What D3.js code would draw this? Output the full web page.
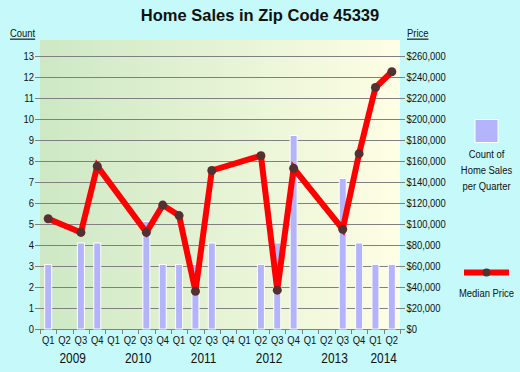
<!DOCTYPE html>
<html><head><meta charset="utf-8">
<script src="https://cdn.jsdelivr.net/npm/d3@7"></script>
<style>
html,body{margin:0;padding:0;background:#c6f9fa;}
svg{display:block;}
text{font-family:"Liberation Sans",Arial,sans-serif;fill:#111;}
</style></head>
<body>
<svg id="chart" width="520" height="372"></svg>
<script>
const years = ["2009","2010","2011","2012","2013","2014"];
const periods = ["2009Q1","2009Q2","2009Q3","2009Q4","2010Q1","2010Q2","2010Q3","2010Q4",
  "2011Q1","2011Q2","2011Q3","2011Q4","2012Q1","2012Q2","2012Q3","2012Q4",
  "2013Q1","2013Q2","2013Q3","2013Q4","2014Q1","2014Q2"];
const salesCount = [3,0,4,4, 0,0,5,3, 3,3,4,0, 0,3,4,9, 0,0,7,4, 3,3];
const medianPrice = [105000,null,92000,155000, null,null,92000,118000, 108000,36000,151000,null,
  null,165000,37000,153000, null,null,95000,167000, 230000,245000];
const countTicks = d3.range(0,14);
const priceTicks = d3.range(0,260001,20000);

const svg = d3.select("#chart");
const L=40,R=400,T=56,B=329,TOPBG=40;
const NARROW=0.82;

function narrow(sel){
  sel.each(function(){
    const t=d3.select(this);
    const ax=+t.attr("x")||0;
    t.attr("transform",`translate(${ax},0) scale(${NARROW},1) translate(${-ax},0)`);
  });
}

const x = d3.scaleBand().domain(periods).range([L,R]);
const yCount = d3.scaleLinear().domain([0,13]).range([B,T]);
const yBar = d3.scaleLinear().domain([0,13]).range([B,B-13*21.5]);
const yPrice = d3.scaleLinear().domain([0,260000]).range([B,T]);

const defs = svg.append("defs");
const grad = defs.append("linearGradient").attr("id","bg").attr("x1","0").attr("x2","1").attr("y1","0").attr("y2","0");
grad.append("stop").attr("offset","0").attr("stop-color","#cde8c4");
grad.append("stop").attr("offset","1").attr("stop-color","#fefee4");

svg.append("rect").attr("x",L).attr("y",TOPBG).attr("width",R-L).attr("height",B-TOPBG).attr("fill","url(#bg)");

// title
svg.append("text").attr("x",260).attr("y",21).attr("text-anchor","middle")
  .style("font-weight","bold").style("font-size","16.5px")
  .text("Home Sales in Zip Code 45339");
svg.append("text").attr("x",10).attr("y",37.5).style("font-size","11.5px").style("text-decoration","underline").text("Count").call(narrow);
svg.append("text").attr("x",407).attr("y",37.5).style("font-size","11.5px").style("text-decoration","underline").text("Price").call(narrow);

// gridlines
svg.append("g").selectAll("line").data(countTicks).join("line")
  .attr("x1",L-5).attr("x2",R+5).attr("y1",d=>yCount(d)+0.5).attr("y2",d=>yCount(d)+0.5)
  .attr("stroke","#808080").attr("stroke-width",1);

// left axis labels
const leftAxis = d3.axisLeft(yCount).tickValues(countTicks).tickSize(0).tickPadding(6);
const gl = svg.append("g").attr("transform",`translate(${L},0)`).call(leftAxis);
gl.select(".domain").remove();
gl.selectAll("text").style("font-size","11.5px").style("font-family",null).attr("fill","#111").call(narrow);

const rightAxis = d3.axisRight(yPrice).tickValues(priceTicks).tickSize(0).tickPadding(6.5)
  .tickFormat(d=>"$"+d3.format(",")(d));
const gr = svg.append("g").attr("transform",`translate(${R},0)`).call(rightAxis);
gr.select(".domain").remove();
gr.selectAll("text").style("font-size","11.5px").style("font-family",null).attr("fill","#111").call(narrow);

// x axis ticks
const bounds = periods.map(p=>x(p)).concat([R]);
svg.append("g").selectAll("line").data(bounds).join("line")
  .attr("x1",d=>Math.round(d)+0.5).attr("x2",d=>Math.round(d)+0.5).attr("y1",B).attr("y2",B+5)
  .attr("stroke","#808080");
svg.append("g").selectAll("text").data(periods).join("text")
  .attr("x",d=>x(d)+x.bandwidth()/2).attr("y",344.5).attr("text-anchor","middle")
  .style("font-size","11.5px").text(d=>d.slice(4)).call(narrow);
svg.append("g").selectAll("text").data(years).join("text")
  .attr("x",y=>{const ps=periods.filter(p=>p.startsWith(y));return (x(ps[0])+x(ps[ps.length-1])+x.bandwidth())/2;})
  .attr("y",363).attr("text-anchor","middle").style("font-size","14.5px").text(d=>d).call(narrow);

// bars
const bw = 7;
svg.append("g").selectAll("rect").data(periods.map((p,i)=>({p,v:salesCount[i]})).filter(d=>d.v>0)).join("rect")
  .attr("x",d=>x(d.p)+x.bandwidth()/2-bw/2).attr("width",bw)
  .attr("y",d=>yBar(d.v)).attr("height",d=>B-yBar(d.v))
  .attr("fill","#b4b4fc").attr("stroke","#ffffff").attr("stroke-width",1);

// price line
const pts = periods.map((p,i)=>({p,v:medianPrice[i]})).filter(d=>d.v!=null);
const line = d3.line().x(d=>x(d.p)+x.bandwidth()/2).y(d=>yPrice(d.v));
svg.append("path").datum(pts).attr("d",line).attr("fill","none").attr("stroke","#ff0000")
  .attr("stroke-width",6).attr("stroke-linejoin","miter");
svg.append("g").selectAll("circle").data(pts).join("circle")
  .attr("cx",d=>x(d.p)+x.bandwidth()/2).attr("cy",d=>yPrice(d.v)).attr("r",4.5).attr("fill","#553030");

// legend
svg.append("rect").attr("x",475).attr("y",119.5).attr("width",23).attr("height",23)
  .attr("fill","#b4b4fc").attr("stroke","#fff").attr("stroke-width",1);
[["Count of",158],["Home Sales",174],["per Quarter",190]].forEach(([t,y])=>
  svg.append("text").attr("x",486.5).attr("y",y).attr("text-anchor","middle").style("font-size","11.5px").text(t).call(narrow));
svg.append("line").attr("x1",464).attr("x2",509).attr("y1",272.5).attr("y2",272.5)
  .attr("stroke","#ff0000").attr("stroke-width",6);
svg.append("circle").attr("cx",486.5).attr("cy",272.5).attr("r",4).attr("fill","#553030");
svg.append("text").attr("x",486.5).attr("y",297).attr("text-anchor","middle").style("font-size","11.5px").text("Median Price").call(narrow);
</script>
</body></html>
